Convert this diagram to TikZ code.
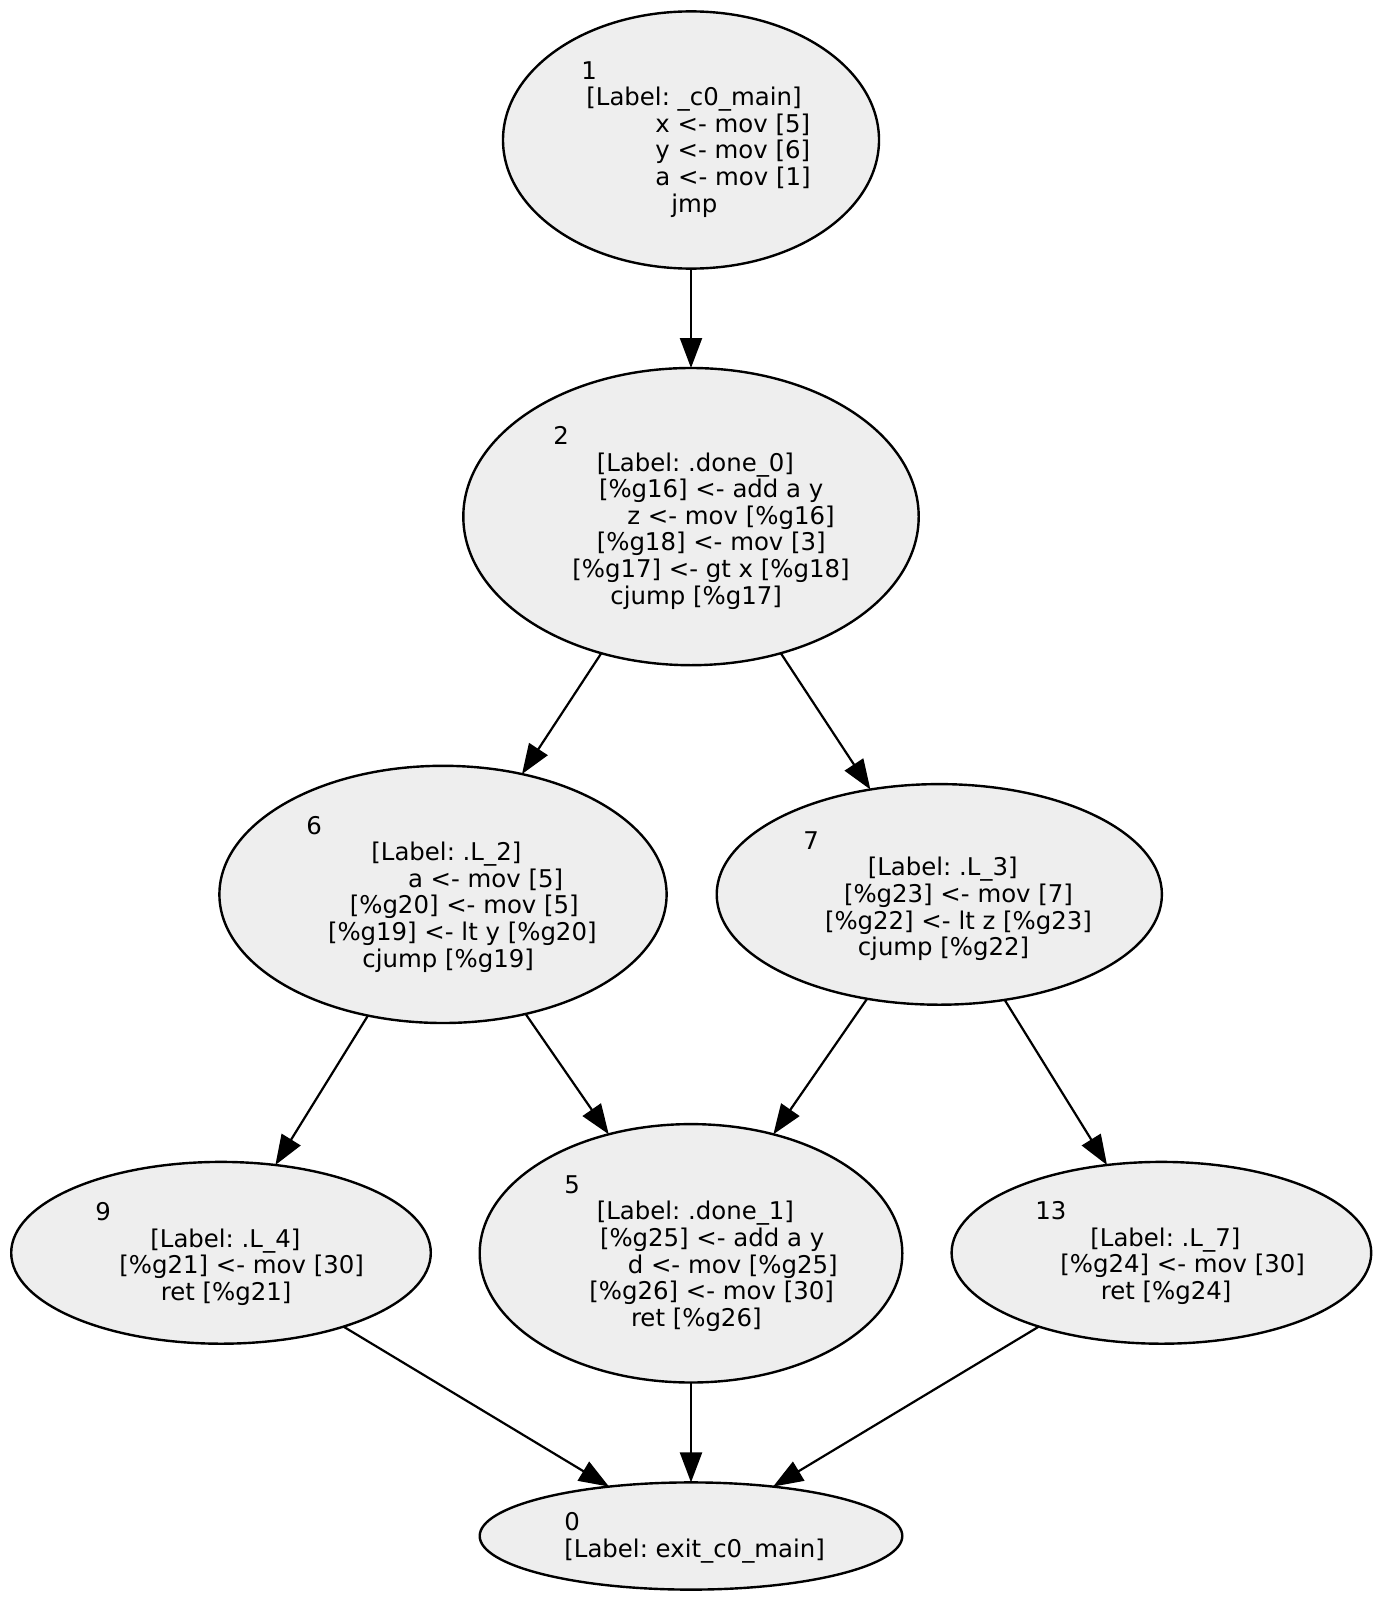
\documentclass[tikz,border=0pt]{standalone}
\usepackage{fontspec}
\setmainfont{DejaVu Sans}
\usetikzlibrary{shapes.geometric,arrows.meta}
\definecolor{blockfill}{HTML}{EEEEEE}
\frenchspacing
\begin{document}
\begin{tikzpicture}[x=0.5pt, y=-0.5pt, >={Triangle[length=15pt,width=11pt]},
  block/.style={ellipse,draw,line width=1.2pt,fill=blockfill,inner sep=0pt,outer sep=0pt},
  code/.style={anchor=north west,align=left,inner sep=0pt,font=\fontsize{12.2}{13.3}\selectfont}]
  \useasboundingbox (0,0) rectangle (1383,1600);

  % blocks
  \foreach \n/\x/\y/\rx/\ry in {1/691/140/188/128.6, 2/691/516.6/227.7/148.6,
      6/443/894.4/223.6/128.6, 7/939.3/894.4/222.6/110.3, 9/221/1252.8/209.8/90.9,
      5/691/1253.3/211.3/129.2, 13/1161.4/1252.8/209.8/90.9, 0/691/1536/211.3/53.6}
      \node [block,minimum width=\rx pt,minimum height=\ry pt] (n\n) at (\x,\y) {};

  % block contents
  \node [code] (t1) at (581,61) {1\\\hspace*{2.5pt}[Label: \_c0\_main]\\
    \hspace*{37pt}x <- mov [5]\\\hspace*{37pt}y <- mov [6]\\
    \hspace*{37pt}a <- mov [1]\\\hspace*{45pt}jmp};
  \node [code] (t2) at (553,426) {2\\\hspace*{21.7pt}[Label: .done\_0]\\
    \hspace*{22.8pt}[\%g16] <- add a y\\\hspace*{37pt}z <- mov [\%g16]\\
    \hspace*{21.7pt}[\%g18] <- mov [3]\\\hspace*{9.5pt}[\%g17] <- gt x [\%g18]\\
    \hspace*{28.5pt}cjump [\%g17]};
  \node [code] (t6) at (306,815.5) {6\\\hspace*{32.5pt}[Label: .L\_2]\\
    \hspace*{50.8pt}a <- mov [5]\\\hspace*{21.7pt}[\%g20] <- mov [5]\\
    \hspace*{10.8pt}[\%g19] <- lt y [\%g20]\\\hspace*{28pt}cjump [\%g19]};
  \node [code] (t7) at (803,831) {7\\\hspace*{32.2pt}[Label: .L\_3]\\
    \hspace*{20.3pt}[\%g23] <- mov [7]\\\hspace*{10.8pt}[\%g22] <- lt z [\%g23]\\
    \hspace*{27.2pt}cjump [\%g22]};
  \node [code] (t9) at (95,1202) {9\\\hspace*{27.5pt}[Label: .L\_4]\\
    \hspace*{12pt}[\%g21] <- mov [30]\\\hspace*{32.7pt}ret [\%g21]};
  \node [code] (t5) at (564,1175) {5\\\hspace*{16.2pt}[Label: .done\_1]\\
    \hspace*{17.8pt}[\%g25] <- add a y\\\hspace*{31.7pt}d <- mov [\%g25]\\
    \hspace*{12.5pt}[\%g26] <- mov [30]\\\hspace*{33.3pt}ret [\%g26]};
  \node [code] (t13) at (1035,1201) {13\\\hspace*{27.5pt}[Label: .L\_7]\\
    \hspace*{12.5pt}[\%g24] <- mov [30]\\\hspace*{32.7pt}ret [\%g24]};
  \node [code] (t0) at (564,1512) {0\\\hspace*{0pt}[Label: exit\_c0\_main]};

  % edges
  \foreach \a/\b in {1/2,2/6,2/7,6/9,6/5,7/5,7/13,9/0,5/0,13/0}
      \draw [->,line width=1.1pt] (n\a) -- (n\b);

\end{tikzpicture}
\end{document}
